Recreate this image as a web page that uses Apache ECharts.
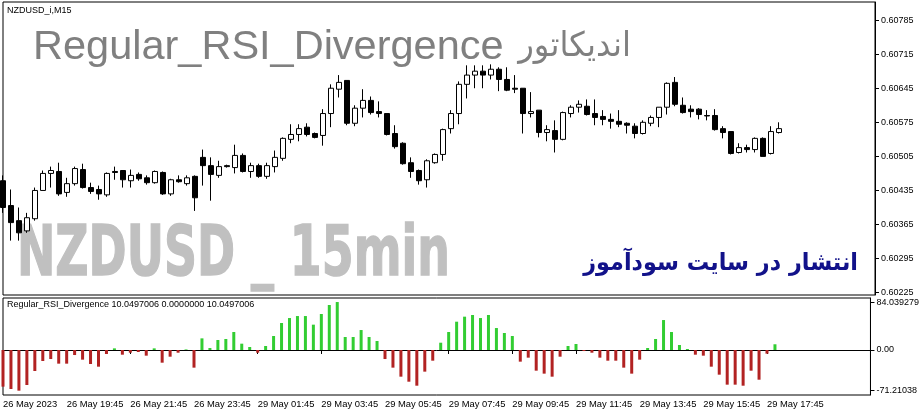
<!DOCTYPE html>
<html><head><meta charset="utf-8">
<script src="https://cdn.jsdelivr.net/npm/echarts@6/dist/echarts.min.js"></script>
<style>html,body{margin:0;padding:0;background:#fff}#c{width:922px;height:416px}</style>
</head><body><div id="c"></div>
<script>
// ---- data (NZDUSD_i, M15) ----
const openP = [0.60455,0.60404,0.60373,0.60352,0.60377,0.60435,0.60470,0.60474,0.60431,0.60449,
0.60478,0.60441,0.60437,0.60426,0.60474,0.60476,0.60455,0.60468,0.60461,0.60451,
0.60472,0.60428,0.60457,0.60449,0.60464,0.60503,0.60486,0.60466,0.60486,0.60482,
0.60507,0.60474,0.60486,0.60464,0.60484,0.60501,0.60540,0.60550,0.60565,0.60552,
0.60548,0.60593,0.60643,0.60661,0.60573,0.60604,0.60620,0.60597,0.60593,0.60552,
0.60532,0.60492,0.60476,0.60457,0.60492,0.60509,0.60562,0.60593,0.60653,0.60672,
0.60680,0.60672,0.60684,0.60663,0.60645,0.60645,0.60593,0.60600,0.60554,0.60558,
0.60540,0.60593,0.60606,0.60608,0.60593,0.60587,0.60581,0.60577,0.60573,0.60567,
0.60552,0.60573,0.60585,0.60606,0.60657,0.60610,0.60602,0.60602,0.60589,0.60589,
0.60562,0.60556,0.60513,0.60523,0.60519,0.60542,0.60511,0.60554];
const closeP = [0.60400,0.60369,0.60348,0.60379,0.60435,0.60470,0.60476,0.60428,0.60449,0.60480,
0.60441,0.60433,0.60428,0.60470,0.60472,0.60457,0.60466,0.60459,0.60451,0.60474,
0.60428,0.60457,0.60453,0.60461,0.60420,0.60486,0.60468,0.60484,0.60484,0.60507,
0.60474,0.60486,0.60464,0.60486,0.60503,0.60542,0.60550,0.60562,0.60550,0.60544,
0.60593,0.60645,0.60657,0.60573,0.60604,0.60620,0.60595,0.60593,0.60550,0.60525,
0.60490,0.60474,0.60455,0.60496,0.60509,0.60560,0.60593,0.60653,0.60672,0.60680,
0.60672,0.60684,0.60663,0.60641,0.60643,0.60593,0.60597,0.60554,0.60560,0.60540,
0.60595,0.60606,0.60612,0.60591,0.60585,0.60581,0.60577,0.60571,0.60569,0.60552,
0.60575,0.60585,0.60606,0.60655,0.60612,0.60595,0.60597,0.60591,0.60588,0.60560,
0.60554,0.60511,0.60523,0.60519,0.60542,0.60505,0.60556,0.60562];
const lowP = [0.60389,0.60332,0.60332,0.60348,0.60373,0.60435,0.60441,0.60424,0.60422,0.60445,
0.60439,0.60428,0.60416,0.60422,0.60457,0.60441,0.60441,0.60455,0.60447,0.60449,
0.60426,0.60424,0.60451,0.60445,0.60393,0.60445,0.60414,0.60461,0.60482,0.60470,
0.60472,0.60461,0.60461,0.60459,0.60472,0.60496,0.60532,0.60536,0.60546,0.60542,
0.60527,0.60565,0.60626,0.60569,0.60567,0.60585,0.60591,0.60585,0.60548,0.60521,
0.60488,0.60461,0.60447,0.60441,0.60490,0.60496,0.60552,0.60571,0.60624,0.60645,
0.60645,0.60663,0.60639,0.60639,0.60635,0.60552,0.60585,0.60544,0.60536,0.60513,
0.60538,0.60585,0.60595,0.60589,0.60569,0.60569,0.60562,0.60565,0.60552,0.60542,
0.60550,0.60567,0.60565,0.60591,0.60608,0.60593,0.60585,0.60581,0.60579,0.60558,
0.60542,0.60509,0.60511,0.60513,0.60513,0.60505,0.60509,0.60552];
const highP = [0.60466,0.60437,0.60400,0.60389,0.60441,0.60476,0.60484,0.60492,0.60461,0.60484,
0.60490,0.60451,0.60445,0.60472,0.60484,0.60476,0.60478,0.60472,0.60466,0.60476,
0.60474,0.60459,0.60466,0.60466,0.60466,0.60519,0.60503,0.60496,0.60488,0.60529,
0.60511,0.60492,0.60490,0.60492,0.60517,0.60544,0.60571,0.60571,0.60573,0.60554,
0.60602,0.60653,0.60672,0.60661,0.60610,0.60643,0.60628,0.60618,0.60593,0.60569,
0.60534,0.60503,0.60478,0.60499,0.60511,0.60562,0.60600,0.60659,0.60692,0.60692,
0.60692,0.60694,0.60688,0.60688,0.60672,0.60645,0.60637,0.60600,0.60569,0.60579,
0.60597,0.60610,0.60620,0.60622,0.60622,0.60600,0.60593,0.60600,0.60575,0.60573,
0.60579,0.60589,0.60606,0.60657,0.60668,0.60626,0.60610,0.60604,0.60600,0.60602,
0.60567,0.60556,0.60532,0.60529,0.60544,0.60544,0.60567,0.60575];
const rsiDiv = [-64.2,-68.3,-71.21038,-61.3,-36.8,-19.3,-15.8,-23.9,-23.9,-8.8,
-16.9,-24.5,-29.2,-7.0,2.9,-8.2,-4.7,-3.5,-9.9,2.9,
-22.2,-11.7,-4.7,1.0,-30.9,20.4,3.5,17.5,19.3,31.5,
11.1,5.3,-4.7,7.0,24.5,47.3,56.0,59.5,59.5,44.4,
63.1,78.8,84.039279,22.8,22.8,35.0,22.8,15.8,-15.8,-30.9,
-46.7,-55.5,-62.5,-37.9,-18.7,12.8,31.5,49.6,58.4,61.3,
56.0,61.3,38.5,29.8,24.5,-20.4,-13.4,-36.2,-41.4,-46.7,
-11.7,7.0,10.5,-1.8,-4.7,-13.4,-18.7,-18.7,-30.9,-41.4,
-16.9,3.5,19.3,52.5,31.5,8.8,1.8,-8.2,-9.9,-29.2,
-43.2,-60.7,-60.7,-62.5,-36.2,-52.0,-6.4,10.0497006];
const timeTicks = ['26 May 2023','26 May 19:45','26 May 21:45','26 May 23:45','29 May 01:45',
'29 May 03:45','29 May 05:45','29 May 07:45','29 May 09:45','29 May 11:45','29 May 13:45',
'29 May 15:45','29 May 17:45'];
const priceTicks = [0.60225,0.60295,0.60365,0.60435,0.60505,0.60575,0.60645,0.60715,0.60785];
const indTicks = [-71.21038, 0, 84.039279];
const indTickLabels = ['-71.21038', '0.00', '84.039279'];

const SLOTS = 110, STEP = 8;
const cats = Array.from({length: SLOTS}, (_, i) => String(i));
const candles = openP.map((o, i) => [o, closeP[i], lowP[i], highP[i]]);
const showTick = (idx) => idx % STEP === 0 && idx / STEP < timeTicks.length;

const chart = echarts.init(document.getElementById('c'), null, {renderer: 'canvas'});
const F = '"Liberation Sans", Arial, sans-serif';
const DJ = '"DejaVu Sans", sans-serif';
chart.setOption({
  animation: false,
  backgroundColor: '#fff',
  grid: [
    {left: 3, top: 2, width: 872, height: 293, show: true, borderColor: '#000', borderWidth: 1, backgroundColor: 'transparent'},
    {left: 3, top: 298, width: 872, height: 97, show: true, borderColor: '#000', borderWidth: 1, backgroundColor: 'transparent'}
  ],
  xAxis: [
    {type: 'category', gridIndex: 0, data: cats, boundaryGap: false,
     axisLine: {show: false}, axisTick: {show: false}, axisLabel: {show: false}, splitLine: {show: false}},
    {type: 'category', gridIndex: 1, data: cats, boundaryGap: false,
     axisLine: {show: true, lineStyle: {color: '#000', width: 1}},
     axisTick: {show: true, length: 4, interval: showTick, lineStyle: {color: '#000'}},
     axisLabel: {show: true, interval: showTick, align: 'left', margin: 5, color: '#000',
       fontFamily: F, fontSize: 9.4,
       formatter: (v, idx) => timeTicks[Math.round(idx / STEP)] || ''},
     splitLine: {show: false}}
  ],
  yAxis: [
    {type: 'value', gridIndex: 0, position: 'right', min: 0.602203, max: 0.608221,
     splitLine: {show: false},
     axisLine: {show: true, lineStyle: {color: '#000'}},
     axisTick: {show: true, length: 4, customValues: priceTicks, lineStyle: {color: '#000'}},
     axisLabel: {show: true, customValues: priceTicks, margin: 6, color: '#000', fontFamily: F, fontSize: 9,
       formatter: v => Number(v).toFixed(5)}},
    {type: 'value', gridIndex: 1, position: 'right', min: -78.8, max: 91.1,
     splitLine: {show: false},
     axisLine: {show: true, lineStyle: {color: '#000'}},
     axisTick: {show: true, length: 4, customValues: indTicks, lineStyle: {color: '#000'}},
     axisLabel: {show: true, customValues: indTicks, margin: 6, color: '#000', fontFamily: F, fontSize: 9,
       formatter: v => { const k = indTicks.findIndex(t => Math.abs(t - v) < 1e-6); return k >= 0 ? indTickLabels[k] : ''; }}}
  ],
  graphic: [
    {type: 'text', x: 7, y: 11, z: 10, style: {text: 'NZDUSD_i,M15', fontFamily: F, fontSize: 9, fill: '#000', verticalAlign: 'middle', textVerticalAlign: 'middle'}},
    {type: 'text', x: 33, y: 48, z: 1, style: {text: 'Regular_RSI_Divergence', fontFamily: F, fontSize: 41.5, fill: '#808080', verticalAlign: 'middle', textVerticalAlign: 'middle'}},
    {type: 'text', x: 631, y: 47, z: 1, scaleX: 0.95, style: {text: 'اندیکاتور', fontFamily: DJ, fontSize: 34, fill: '#808080', align: 'right', textAlign: 'right', verticalAlign: 'middle', textVerticalAlign: 'middle'}},
    {type: 'text', x: 17, y: 257, scaleX: 0.655, z: 1, style: {text: 'NZDUSD _ 15min', fontFamily: DJ, fontWeight: 'bold', fontSize: 70, fill: '#c0c0c0', stroke: '#c0c0c0', lineWidth: 1.5, verticalAlign: 'middle', textVerticalAlign: 'middle'}},
    {type: 'text', x: 858, y: 264, z: 1, scaleX: 0.93, style: {text: 'انتشار در سایت سودآموز', fontFamily: DJ, fontWeight: 'bold', fontSize: 24, fill: '#12128a', align: 'right', textAlign: 'right', verticalAlign: 'middle', textVerticalAlign: 'middle'}},
    {type: 'text', x: 7, y: 305, z: 10, style: {text: 'Regular_RSI_Divergence 10.0497006 0.0000000 10.0497006', fontFamily: F, fontSize: 9, fill: '#000', verticalAlign: 'middle', textVerticalAlign: 'middle'}}
  ],
  series: [
    {type: 'candlestick', xAxisIndex: 0, yAxisIndex: 0, data: candles, barWidth: 5, z: 5,
     itemStyle: {color: '#fff', color0: '#000', borderColor: '#000', borderColor0: '#000', borderColorDoji: '#000', borderWidth: 1}},
    {type: 'bar', xAxisIndex: 1, yAxisIndex: 1, data: rsiDiv, barWidth: 3, z: 5,
     itemStyle: {color: p => p.value >= 0 ? '#32cd32' : '#b22222'}}
  ]
});
</script></body></html>
